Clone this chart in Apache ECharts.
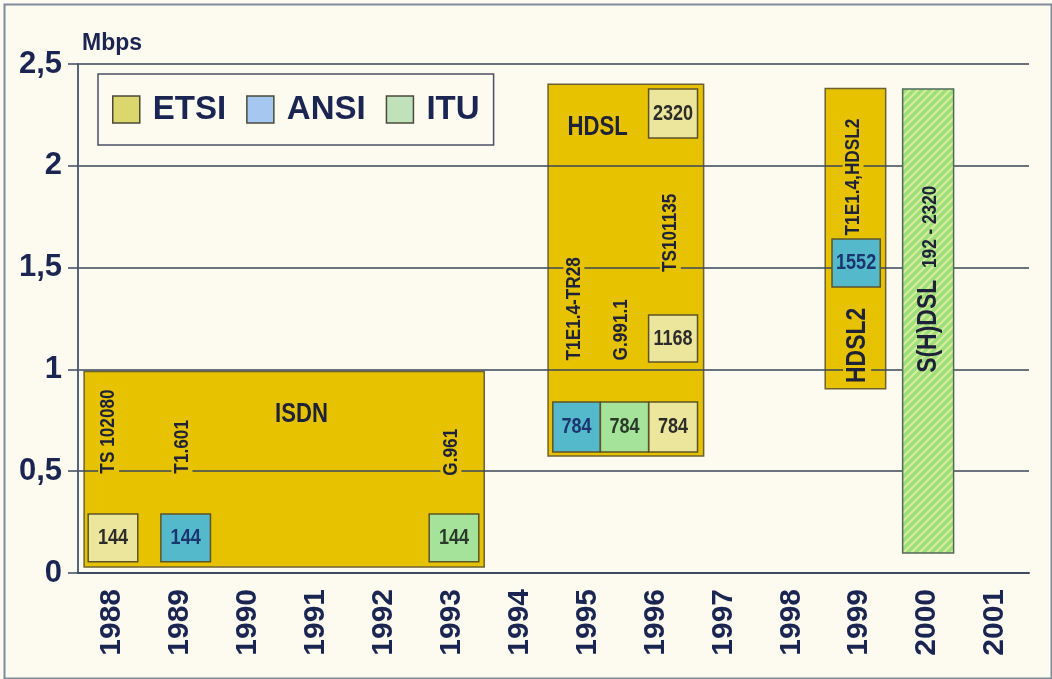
<!DOCTYPE html>
<html>
<head>
<meta charset="utf-8">
<style>
html, body { margin: 0; padding: 0; background: #fdfbf0; }
#chart { width: 1052px; height: 679px; }
</style>
<script src="https://cdn.jsdelivr.net/npm/echarts@6/dist/echarts.min.js"></script>
</head>
<body>
<div id="chart"></div>
<script>
var years = ['1988', '1989', '1990', '1991', '1992', '1993', '1994', '1995', '1996', '1997', '1998', '1999', '2000', '2001'];

// technology blocks: [fromYear, toYear, lowMbps, highMbps]
var blocks = [
  [1988.09, 1993.98, 0.03, 0.99],
  [1994.92, 1997.21, 0.575, 2.40],
  [1999.0, 1999.89, 0.905, 2.38]
];
var shdsl = [[2000.14, 2000.89, 0.098, 2.377]];

// standard boxes per body: [fromYear, toYear, lowMbps, highMbps], rate in kbps
var etsiBoxes = [[1988.15, 1988.88, 0.055, 0.29], [1996.40, 1997.12, 0.594, 0.84], [1996.40, 1997.12, 1.036, 1.267], [1996.40, 1997.12, 2.137, 2.377]];
var etsiRates = ['144', '784', '1168', '2320'];
var ansiBoxes = [[1989.22, 1989.95, 0.055, 0.29], [1994.99, 1995.69, 0.594, 0.84], [1999.10, 1999.81, 1.405, 1.64]];
var ansiRates = ['144', '784', '1552'];
var ituBoxes = [[1993.17, 1993.90, 0.055, 0.29], [1995.69, 1996.40, 0.594, 0.84]];
var ituRates = ['144', '784'];

// block names, anchored at [year, Mbps]
var flatNames = ['ISDN', 'HDSL'];
var flatNameAt = [[1991.29, 0.776], [1995.65, 2.19]];
var upNames = ['HDSL2'];
var upNameAt = [[1999.47, 0.925]];
var shdslName = ['S(H)DSL'];
var shdslNameAt = [[2000.52, 0.975]];

// standard references, written upwards from [year, Mbps]
var notes = ['TS 102080', 'T1.601', 'G.961', 'T1E1.4-TR28', 'G.991.1', 'TS101135', 'T1E1.4,HDSL2'];
var noteAt = [[1988.45, 0.48], [1989.53, 0.48], [1993.49, 0.47], [1995.30, 1.036], [1996.0, 1.036], [1996.72, 1.47], [1999.41, 1.65]];
var rangeNote = ['192 - 2320'];
var rangeNoteAt = [[2000.55, 1.49]];

var NAVY = '#1b2552';
var GOLD = '#e6c200';
var SANS = '"Liberation Sans", Arial, sans-serif';
var NARROW = 0.82; // squeeze to look like Arial Narrow

var chart = echarts.init(document.getElementById('chart'));

// hatched fill for S(H)DSL
var tile = document.createElement('canvas');
tile.width = 8; tile.height = 8;
var g = tile.getContext('2d');
g.fillStyle = '#9ede7c';
g.fillRect(0, 0, 8, 8);
g.strokeStyle = '#d6ed9a';
g.lineWidth = 2.2;
g.beginPath();
g.moveTo(-2, 10); g.lineTo(10, -2);
g.moveTo(-6, 6); g.lineTo(6, -6);
g.moveTo(2, 14); g.lineTo(14, 2);
g.stroke();

function boxShape(api) {
  var a = api.coord([api.value(0), api.value(3)]);
  var b = api.coord([api.value(1), api.value(2)]);
  return { x: a[0], y: a[1], width: b[0] - a[0], height: b[1] - a[1] };
}

function boxSeries(name, data, rates, fill, textColor) {
  return {
    name: name,
    type: 'custom',
    xAxisIndex: 1,
    z: 5,
    data: data,
    renderItem: function (params, api) {
      var s = boxShape(api);
      return {
        type: 'group',
        children: [
          { type: 'rect', shape: s, style: { fill: fill, stroke: '#5c5428', lineWidth: 1.5 } },
          { type: 'text', x: s.x + s.width / 2, y: s.y + s.height / 2, scaleX: NARROW,
            style: { text: rates[params.dataIndex], align: 'center', verticalAlign: 'middle',
              textAlign: 'center', textVerticalAlign: 'middle',
              font: 'bold 22px ' + SANS, fill: textColor } }
        ]
      };
    }
  };
}

function textSeries(list, at, size, upright, bg) {
  return {
    type: 'custom',
    xAxisIndex: 1,
    z: 6,
    silent: true,
    data: at,
    renderItem: function (params, api) {
      var p = api.coord([api.value(0), api.value(1)]);
      return {
        type: 'text',
        x: p[0], y: p[1],
        scaleX: NARROW,
        rotation: upright ? Math.PI / 2 : 0,
        style: {
          text: list[params.dataIndex],
          align: upright ? 'left' : 'center', verticalAlign: 'middle',
          textAlign: upright ? 'left' : 'center', textVerticalAlign: 'middle',
          font: 'bold ' + size + 'px ' + SANS, fill: '#1e2238',
          backgroundColor: bg, padding: [0, 2]
        }
      };
    }
  };
}

var option = {
  backgroundColor: '#fdfbf0',
  animation: false,
  graphic: [{
    type: 'rect', left: 2, top: 2, z: 0,
    shape: { width: 1047, height: 674 },
    style: { fill: 'none', stroke: '#7e8a9c', lineWidth: 2 }
  }],
  grid: { left: 78, right: 23, top: 64, bottom: 106 },
  legend: {
    left: 98, top: 74,
    data: [
      { name: 'ETSI', itemStyle: { color: '#dcd76c' } },
      { name: 'ANSI', itemStyle: { color: '#a6c8f0' } },
      { name: 'ITU', itemStyle: { color: '#bfe2bb' } }
    ],
    icon: 'rect',
    itemWidth: 27, itemHeight: 27, itemGap: 20,
    itemStyle: { borderColor: '#4a4a38', borderWidth: 1.5 },
    textStyle: { fontFamily: SANS, fontWeight: 'bold', fontSize: 33, color: NAVY, lineHeight: 30, padding: [0, 0, 0, 8] },
    backgroundColor: '#fdfbf0',
    borderColor: '#4a5263', borderWidth: 1.5,
    padding: [19, 14, 19, 14],
    selectedMode: false,
    z: 10
  },
  xAxis: [{
    type: 'category',
    data: years,
    boundaryGap: true,
    z: 3,
    axisLine: { lineStyle: { color: '#3d4a60', width: 2 } },
    axisTick: { length: 8, lineStyle: { color: '#3d4a60', width: 1.5 } },
    axisLabel: { rotate: 90, margin: 16, fontFamily: SANS, fontWeight: 'bold', fontSize: 30, color: NAVY },
    splitLine: { show: false }
  }, {
    type: 'value', min: 1988, max: 2002, show: false
  }],
  yAxis: {
    type: 'value',
    min: 0, max: 2.5, interval: 0.5,
    z: 3,
    name: 'Mbps',
    nameLocation: 'end',
    nameGap: 9,
    nameTextStyle: { align: 'left', padding: [0, 0, 0, 4], fontFamily: SANS, fontWeight: 'bold', fontSize: 23, color: NAVY },
    axisLine: { show: true, lineStyle: { color: '#56657a', width: 2 } },
    axisTick: { show: true, length: 10, lineStyle: { color: '#3d4a60', width: 1.5 } },
    axisLabel: {
      margin: 16, fontFamily: SANS, fontWeight: 'bold', fontSize: 31, color: NAVY,
      formatter: function (v) { return String(v).replace('.', ','); }
    },
    splitLine: { lineStyle: { color: '#3a4658', width: 1.5 } }
  },
  series: [
    {
      type: 'custom',
      xAxisIndex: 1,
      z: 1,
      silent: true,
      data: blocks,
      renderItem: function (params, api) {
        return { type: 'rect', shape: boxShape(api), style: { fill: GOLD, stroke: '#6e6130', lineWidth: 1.5 } };
      }
    },
    {
      type: 'custom',
      xAxisIndex: 1,
      z: 5,
      silent: true,
      data: shdsl,
      renderItem: function (params, api) {
        return { type: 'rect', shape: boxShape(api), style: { fill: { image: tile, repeat: 'repeat' }, stroke: '#4f6a58', lineWidth: 1.5 } };
      }
    },
    boxSeries('ETSI', etsiBoxes, etsiRates, '#ece59c', '#2c2c28'),
    boxSeries('ANSI', ansiBoxes, ansiRates, '#55b9cc', '#1a3570'),
    boxSeries('ITU', ituBoxes, ituRates, '#a5e29a', '#2a3a2a'),
    textSeries(flatNames, flatNameAt, 27, false, null),
    textSeries(upNames, upNameAt, 28, true, GOLD),
    textSeries(shdslName, shdslNameAt, 28, true, null),
    textSeries(notes, noteAt, 21, true, GOLD),
    textSeries(rangeNote, rangeNoteAt, 21, true, null)
  ]
};

chart.setOption(option);
</script>
</body>
</html>
